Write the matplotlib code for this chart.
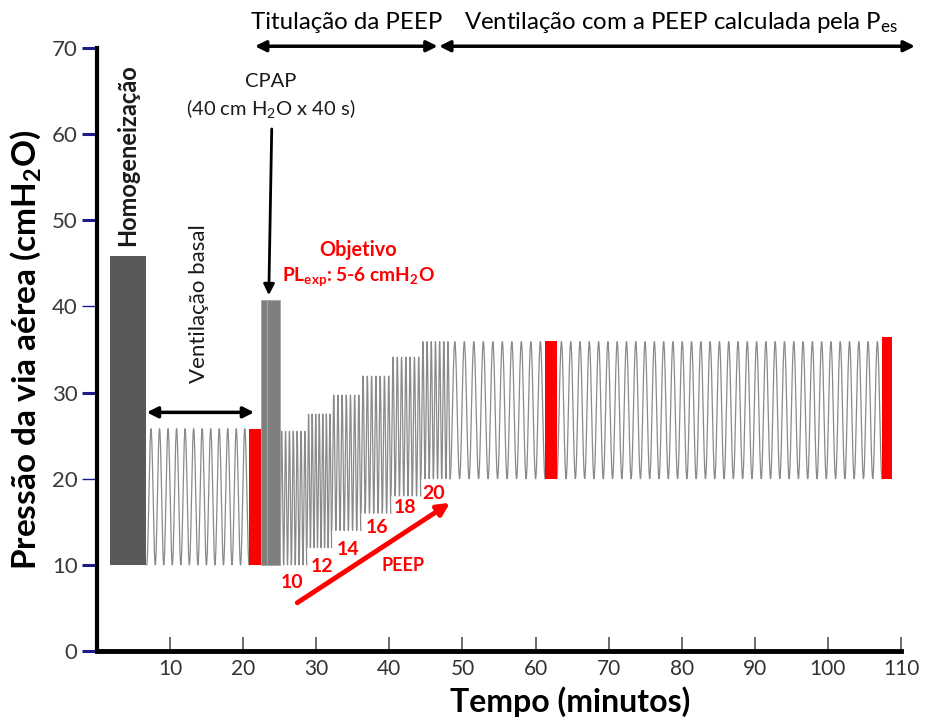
import matplotlib
matplotlib.use("Agg")
import matplotlib.pyplot as plt
import numpy as np

plt.rcParams['font.family'] = ['Lato', 'DejaVu Sans']
plt.rcParams['mathtext.default'] = 'regular'

# blocos sólidos: (início, fim, pressão mínima, pressão máxima)
homog_bar = (1.8, 6.7, 10.0, 45.8)
cpap_bar = (22.4, 25.0, 10.0, 40.7)
red_bars = [(20.8, 22.4, 10.0, 25.8),
            (61.3, 62.9, 20.0, 36.0),
            (107.4, 108.8, 20.0, 36.5)]

# segmentos de ventilação: início, fim, nº de ciclos, PEEP (vale), pico
seg_start = [6.8, 25.0, 28.7, 32.1, 36.1, 40.2, 44.3, 48.3, 62.9]
seg_end = [20.8, 28.7, 32.1, 36.1, 40.2, 44.3, 48.3, 61.3, 107.4]
seg_breaths = [12, 7, 7, 7, 7, 7, 7, 10, 35]
seg_peep = [10, 10, 12, 14, 16, 18, 20, 20, 20]
seg_peak = [25.8, 25.5, 27.5, 29.7, 31.9, 34.1, 35.9, 35.9, 35.9]

# rótulos de PEEP da titulação
peep_steps = [10, 12, 14, 16, 18, 20]
peep_label_x = [26.7, 30.8, 34.3, 38.3, 42.1, 46.1]
peep_label_y = [7.9, 9.8, 11.8, 14.3, 16.6, 18.3]

fig = plt.figure(figsize=(9.25, 7.19), dpi=100)
ax = fig.add_axes([0.1049, 0.0946, 0.8692, 0.8387])
ax.set_xlim(0, 110)
ax.set_ylim(0, 70)

# traçado da pressão (um ciclo = subida e descida suaves)
wave_color = '#8a8a8a'
for x0, x1, n, lo, hi in zip(seg_start, seg_end, seg_breaths, seg_peep, seg_peak):
    t = np.linspace(0, n, n * 40 + 1)
    x = x0 + (x1 - x0) * t / n
    y = lo + (hi - lo) * (1 - np.cos(2 * np.pi * t)) / 2
    ax.plot(x, y, color=wave_color, lw=0.9, zorder=2)

def block(b, color, **kw):
    x0, x1, lo, hi = b
    ax.bar(x0, hi - lo, width=x1 - x0, bottom=lo, align='edge',
           color=color, zorder=3, **kw)

block(homog_bar, '#595959')
# CPAP desenhado em duas colunas
cx0, cx1, clo, chi = cpap_bar
block((cx0, cx0 + 0.9, clo, chi), '#7f7f7f', edgecolor='#a6a6a6', linewidth=0.6)
block((cx0 + 0.9, cx1, clo, chi), '#7f7f7f', edgecolor='#a6a6a6', linewidth=0.6)
for b in red_bars:
    block(b, '#ff0000')

# eixos
for s in ['top', 'right']:
    ax.spines[s].set_visible(False)
ax.spines['left'].set_linewidth(3)
ax.spines['bottom'].set_linewidth(3.5)

ax.set_yticks(range(0, 80, 10))
ax.tick_params(axis='y', direction='out', length=11, width=2.2, color='#1c1c8c',
               labelsize=16, labelcolor='#3a3a3a', pad=3)
for i in (2, 4):
    tl = ax.yaxis.get_major_ticks()[i].tick1line
    tl.set_color('#555555')
    tl.set_markeredgewidth(1)

ax.set_xticks(range(10, 120, 10))
ax.tick_params(axis='x', direction='in', length=10, width=1.1, color='#444444',
               labelsize=15, labelcolor='#333333', pad=6)

ax.set_ylabel('Pressão da via aérea (cmH$_2$O)', fontsize=24, fontweight='bold')
ax.yaxis.set_label_coords(-0.067, 0.5)
ax.set_xlabel('Tempo (minutos)', fontsize=23, fontweight='bold')
ax.xaxis.set_label_coords(0.588, -0.058)

# fases no topo
ax.text(34.1, 72.9, 'Titulação da PEEP', fontsize=17.3, ha='center', va='center',
        color='black', clip_on=False)
ax.text(79.9, 72.9, 'Ventilação com a PEEP calculada pela P$_{es}$', fontsize=17.3,
        ha='center', va='center', color='black', clip_on=False)
top_arrow = dict(arrowstyle='<|-|>', lw=2.5, color='black', mutation_scale=16,
                 shrinkA=0, shrinkB=0)
ax.annotate('', xy=(46.6, 70.2), xytext=(21.6, 70.2), arrowprops=top_arrow,
            annotation_clip=False)
ax.annotate('', xy=(111.9, 70.2), xytext=(46.8, 70.2), arrowprops=top_arrow,
            annotation_clip=False)

# anotações internas
ax.text(4.2, 57.6, 'Homogeneização', rotation=90, fontsize=17, fontweight='bold',
        ha='center', va='center', color='#1a1a1a')
ax.text(14.0, 40.3, 'Ventilação basal', rotation=90, fontsize=16, ha='center',
        va='center', color='#1a1a1a')
ax.annotate('', xy=(21.5, 27.7), xytext=(6.8, 27.7), arrowprops=top_arrow)

ax.text(23.7, 66.1, 'CPAP', fontsize=14.5, ha='center', va='center', color='#1a1a1a')
ax.text(23.7, 63.0, '(40 cm H$_2$O x 40 s)', fontsize=14.5, ha='center',
        va='center', color='#1a1a1a')
ax.annotate('', xy=(23.5, 41.3), xytext=(23.9, 60.6),
            arrowprops=dict(arrowstyle='-|>', lw=2, color='black',
                            mutation_scale=16, shrinkA=0, shrinkB=0))

ax.text(35.7, 46.6, 'Objetivo', fontsize=14.3, fontweight='bold', ha='center',
        va='center', color='#ff0000')
ax.text(35.7, 43.5, 'PL$_{exp}$: 5-6 cmH$_2$O', fontsize=13.8, fontweight='bold',
        ha='center', va='center', color='#ff0000')

for p, lx, ly in zip(peep_steps, peep_label_x, peep_label_y):
    ax.text(lx, ly, str(p), fontsize=14, fontweight='bold', ha='center',
            va='center', color='#ff0000')
ax.text(41.9, 9.9, 'PEEP', fontsize=13, fontweight='bold', ha='center',
        va='center', color='#ff0000')
ax.annotate('', xy=(48.3, 17.2), xytext=(27.4, 5.6),
            arrowprops=dict(arrowstyle='-|>', lw=3.5, color='#ff0000',
                            mutation_scale=18, shrinkA=0, shrinkB=0))

fig.savefig('out.png', dpi=100)
